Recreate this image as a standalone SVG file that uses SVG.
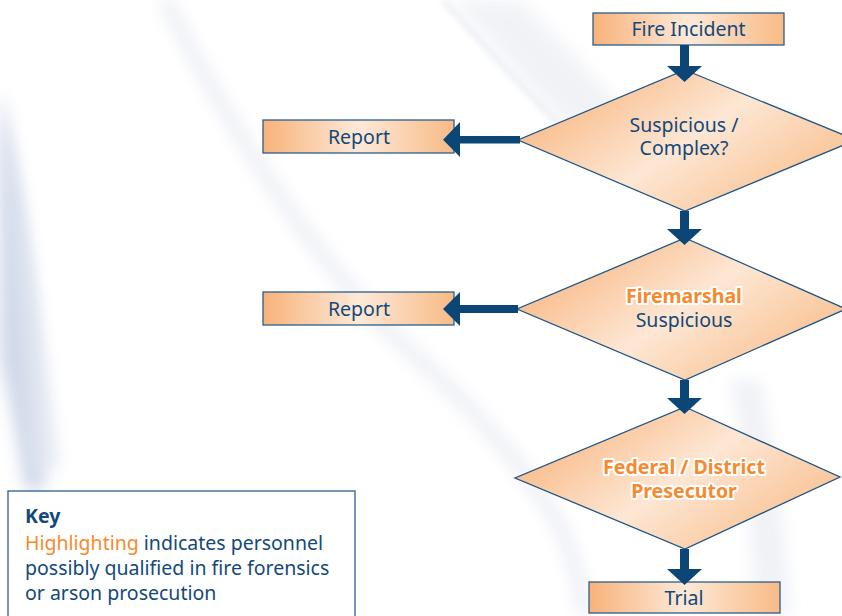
<svg xmlns="http://www.w3.org/2000/svg" width="842" height="616" viewBox="0 0 842 616">
<defs>
<linearGradient id="boxg" x1="0" y1="0" x2="1" y2="0">
<stop offset="0" stop-color="#f8b27a"/>
<stop offset="0.5" stop-color="#fde9d8"/>
<stop offset="1" stop-color="#f8bb86"/>
</linearGradient>
<linearGradient id="diag" x1="0" y1="0.2" x2="1" y2="0.8">
<stop offset="0" stop-color="#f8b27a"/>
<stop offset="0.5" stop-color="#fde7d4"/>
<stop offset="1" stop-color="#f8bb86"/>
</linearGradient>
<linearGradient id="leftband" x1="0" y1="0" x2="1" y2="0">
<stop offset="0" stop-color="#b9c6de"/>
<stop offset="1" stop-color="#ffffff" stop-opacity="0"/>
</linearGradient>
<filter id="blur" x="-50%" y="-50%" width="200%" height="200%"><feGaussianBlur stdDeviation="8"/></filter>
<filter id="blur2" x="-50%" y="-50%" width="200%" height="200%"><feGaussianBlur stdDeviation="3"/></filter>
</defs>
<style>
.box{fill:url(#boxg);stroke:#2b5f8c;stroke-width:1.3}
.dia{fill:url(#diag);stroke:#1d5585;stroke-width:1.3}
.t{font-family:"Noto Sans","Open Sans",sans-serif;font-size:19.5px;fill:#12497a;text-anchor:middle}
.h{font-family:"Noto Sans","Open Sans",sans-serif;font-size:19.5px;font-weight:bold;fill:#f68a2e;text-anchor:middle;stroke:#ffffff;stroke-width:4;stroke-linejoin:round;paint-order:stroke}
.k{font-family:"Noto Sans","Open Sans",sans-serif;font-size:19.5px;fill:#12497a}
.arr{fill:#0b4677}
</style>
<rect width="842" height="616" fill="#ffffff"/>
<g id="background">
<path d="M0,90 C30,200 40,380 45,490 L25,490 C15,420 5,380 0,360 Z" fill="#c3cee3" opacity="0.8" filter="url(#blur)"/>
<path d="M0,150 C15,250 20,350 30,470 L60,470 C45,350 35,250 0,120 Z" fill="#dfe5f0" opacity="0.7" filter="url(#blur)"/>
<path d="M165,0 C220,110 300,240 383,325 C440,380 500,430 555,517 C570,545 580,580 585,616" fill="none" stroke="#e6e8f1" stroke-width="14" opacity="0.7" filter="url(#blur)"/>
<path d="M443,0 C480,40 520,85 560,125" fill="none" stroke="#dfe3ec" stroke-width="4" opacity="0.8" filter="url(#blur2)"/>
<path d="M450,0 C490,40 525,85 570,130 L640,130 C600,80 560,40 520,0 Z" fill="#eef0f5" opacity="0.8" filter="url(#blur)"/>
<path d="M730,380 C745,450 750,520 755,616 L790,616 C785,520 775,450 760,380 Z" fill="#e9ecf3" opacity="0.7" filter="url(#blur)"/>
</g>
<g id="n_fire"><rect class="box" x="593" y="13" width="191" height="32"/><text class="t" x="688.5" y="36">Fire Incident</text></g>
<g id="n_susp"><polygon class="dia" points="685,70 856,140 685,211 518,140"/><text class="t" x="684" y="132">Suspicious /</text><text class="t" x="684" y="155">Complex?</text></g>
<g id="n_report1"><rect class="box" x="263" y="120" width="191" height="33"/><text class="t" x="359" y="144">Report</text></g>
<g id="n_fm"><polygon class="dia" points="685,238 846,309 685,380 517,309"/><text class="h" x="684" y="303">Firemarshal</text><text class="t" x="684" y="327">Suspicious</text></g>
<g id="n_report2"><rect class="box" x="263" y="292" width="191" height="33"/><text class="t" x="359" y="316">Report</text></g>
<g id="n_fed"><polygon class="dia" points="685,407 840,477 685,549 515,478"/><text class="h" x="684" y="474">Federal / District</text><text class="h" x="684" y="498">Presecutor</text></g>
<g id="n_trial"><rect class="box" x="589" y="582" width="191" height="31"/><text class="t" x="684" y="605">Trial</text></g>
<g id="connectors">
<path class="arr" d="M680,45 H689 V66 H702 L684.5,82 L667,66 H680 Z"/>
<path class="arr" d="M680,211 H689 V229 H702 L684.5,245 L667,229 H680 Z"/>
<path class="arr" d="M680,380 H689 V398 H702 L684.5,414 L667,398 H680 Z"/>
<path class="arr" d="M680,549 H689 V569 H702 L684.5,585 L667,569 H680 Z"/>
<path class="arr" d="M520,136 V143.5 H460 V157 L443,139.7 L460,122 V136 Z"/>
<path class="arr" d="M518,305 V313 H460 V326 L443,309 L460,292 V305 Z"/>
</g>
<g id="key"><rect x="8" y="491" width="347" height="140" fill="#ffffff" stroke="#2b5f8c" stroke-width="1.3"/>
<text class="k" x="25" y="523" font-weight="bold">Key</text>
<text class="k" x="25" y="550"><tspan fill="#f68a2e">Highlighting</tspan> indicates personnel</text>
<text class="k" x="25" y="575">possibly qualified in fire forensics</text>
<text class="k" x="25" y="600">or arson prosecution</text>
</g>
</svg>
